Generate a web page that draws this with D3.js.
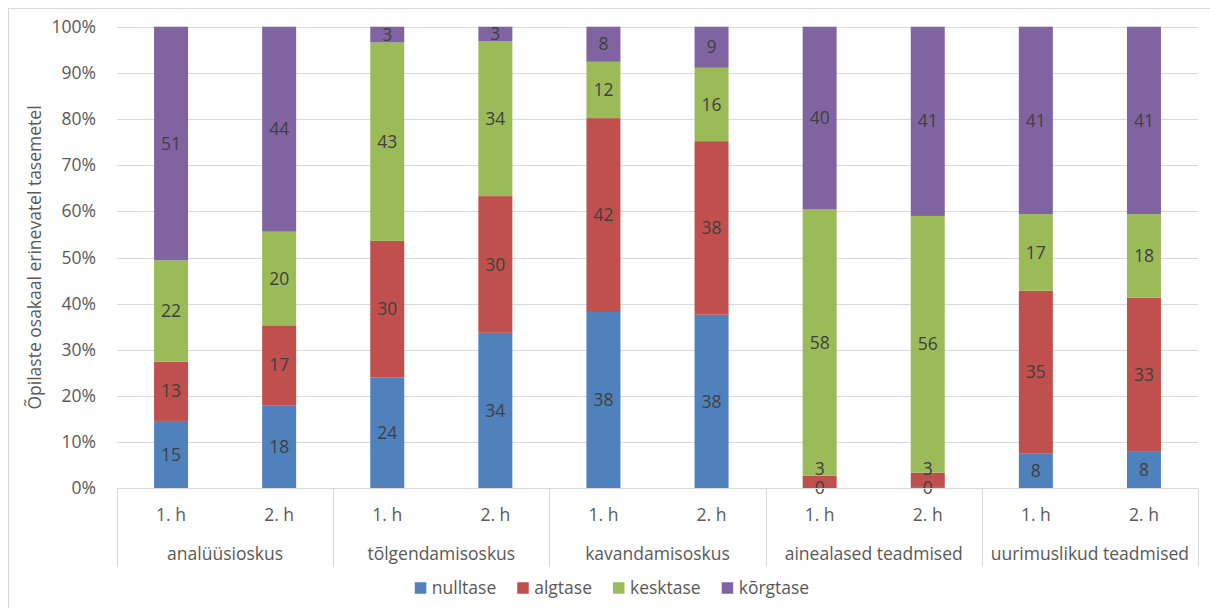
<!DOCTYPE html>
<html>
<head>
<meta charset="utf-8">
<script src="https://cdn.jsdelivr.net/npm/d3@7"></script>
<style>
  html, body { margin: 0; padding: 0; background: #fff; }
  svg { display: block; font-family: "Open Sans", "Noto Sans", sans-serif; }
</style>
</head>
<body>
<svg id="chart" width="1210" height="608"></svg>
<script>
// Skill groups and the two half-years measured in each
const groups = ["analüüsioskus", "tõlgendamisoskus", "kavandamisoskus", "ainealased teadmised", "uurimuslikud teadmised"];
const halves = ["1. h", "2. h"];
const levels = ["nulltase", "algtase", "kesktase", "kõrgtase"];

// Share of pupils (%) per level, one value per bar (group × half-year)
const nulltase = [14.6, 18.0, 24.0, 33.7, 38.2, 37.6, 0.0, 0.3, 7.6, 7.9];
const algtase  = [12.8, 17.3, 29.6, 29.6, 42.0, 37.6, 2.7, 3.1, 35.2, 33.4];
const kesktase = [22.0, 20.3, 43.0, 33.6, 12.2, 15.9, 57.7, 55.6, 16.6, 18.1];
const korgtase = [50.6, 44.4, 3.4, 3.1, 7.6, 8.9, 39.6, 41.0, 40.6, 40.6];

const yTicks = [0, 0.1, 0.2, 0.3, 0.4, 0.5, 0.6, 0.7, 0.8, 0.9, 1.0];
const colors = ["#4F81BD", "#C0504D", "#9BBB59", "#8064A2"];
const yTitle = "Õpilaste osakaal erinevatel tasemetel";

// Build one row per bar
const rows = [];
groups.forEach((g, gi) => halves.forEach((h, hi) => {
  const i = gi * 2 + hi;
  rows.push({
    key: g + "|" + h, group: g, half: h,
    "nulltase": nulltase[i], "algtase": algtase[i], "kesktase": kesktase[i], "kõrgtase": korgtase[i]
  });
}));

const svg = d3.select("#chart");
const plot = { left: 117, right: 1198, top: 26.7, bottom: 488.3 };
const textColor = "#595959";
const gridColor = "#d9d9d9";
const fontSize = 17.5;

// Outer chart frame
svg.append("rect")
  .attr("x", 8.5).attr("y", 8.5)
  .attr("width", 1230).attr("height", 640)
  .attr("fill", "none").attr("stroke", gridColor).attr("stroke-width", 1);

const x = d3.scaleBand()
  .domain(rows.map(d => d.key))
  .range([plot.left, plot.right])
  .paddingInner(0.6855)
  .paddingOuter(0.6855 / 2);

const y = d3.scaleLinear().domain([0, 1]).range([plot.bottom, plot.top]);

// Horizontal gridlines
svg.append("g").selectAll("line")
  .data(yTicks.filter(t => t > 0))
  .join("line")
  .attr("x1", plot.left).attr("x2", plot.right)
  .attr("y1", d => Math.round(y(d)) + 0.5).attr("y2", d => Math.round(y(d)) + 0.5)
  .attr("stroke", gridColor).attr("stroke-width", 1);

// Y axis tick labels
const yAxis = svg.append("g")
  .attr("transform", `translate(${plot.left},0)`)
  .call(d3.axisLeft(y).tickValues(yTicks).tickFormat(d3.format(".0%")).tickSize(0).tickPadding(21));
yAxis.select(".domain").remove();
yAxis.selectAll("text")
  .attr("fill", textColor)
  .style("font-size", fontSize + "px")
  .style("font-family", "'Open Sans', sans-serif");

// Y axis title
svg.append("text")
  .attr("transform", `translate(35,${(plot.top + plot.bottom) / 2}) rotate(-90)`)
  .attr("text-anchor", "middle")
  .attr("dy", "0.35em")
  .attr("fill", textColor)
  .style("font-size", fontSize + "px")
  .text(yTitle);

// Stacked, normalised to 100%
const stack = d3.stack().keys(levels).offset(d3.stackOffsetExpand);
const series = stack(rows);

svg.append("g").selectAll("g")
  .data(series)
  .join("g")
  .attr("fill", (d, i) => colors[i])
  .selectAll("rect")
  .data(d => d)
  .join("rect")
  .attr("x", d => x(d.data.key))
  .attr("width", x.bandwidth())
  .attr("y", d => y(d[1]))
  .attr("height", d => y(d[0]) - y(d[1]));

// Value labels, centred in each segment; pushed upward when they would collide
const labelData = [];
rows.forEach((r, ri) => {
  let prevY = Infinity;
  series.forEach((s, si) => {
    const seg = s[ri];
    const center = (y(seg[0]) + y(seg[1])) / 2;
    const ly = Math.min(center, prevY - 19);
    prevY = ly;
    labelData.push({ x: x(r.key) + x.bandwidth() / 2, y: ly, text: Math.round(r[levels[si]]) });
  });
});
svg.append("g").selectAll("text")
  .data(labelData)
  .join("text")
  .attr("x", d => d.x).attr("y", d => d.y)
  .attr("dy", "0.35em")
  .attr("text-anchor", "middle")
  .attr("fill", "#404040")
  .style("font-size", fontSize + "px")
  .text(d => d.text);

// Category axis: baseline, group separators, half-year and group labels
svg.append("line")
  .attr("x1", plot.left).attr("x2", plot.right)
  .attr("y1", Math.round(plot.bottom) + 0.5).attr("y2", Math.round(plot.bottom) + 0.5)
  .attr("stroke", gridColor);

const step = x.step();
const sepX = d3.range(groups.length + 1).map(i => plot.left + i * 2 * step);
svg.append("g").selectAll("line")
  .data(sepX)
  .join("line")
  .attr("x1", d => Math.round(d) + 0.5).attr("x2", d => Math.round(d) + 0.5)
  .attr("y1", plot.bottom).attr("y2", 567)
  .attr("stroke", gridColor);

svg.append("g").selectAll("text")
  .data(rows)
  .join("text")
  .attr("x", d => x(d.key) + x.bandwidth() / 2)
  .attr("y", 515)
  .attr("dy", "0.35em")
  .attr("text-anchor", "middle")
  .attr("fill", textColor)
  .style("font-size", fontSize + "px")
  .text(d => d.half);

svg.append("g").selectAll("text")
  .data(groups)
  .join("text")
  .attr("x", (d, i) => plot.left + (i * 2 + 1) * step)
  .attr("y", 554)
  .attr("dy", "0.35em")
  .attr("text-anchor", "middle")
  .attr("fill", textColor)
  .style("font-size", fontSize + "px")
  .text(d => d);

// Legend, centred under the chart
const legend = svg.append("g");
const items = legend.selectAll("g").data(levels).join("g");
items.append("rect")
  .attr("width", 11.5).attr("height", 11.5)
  .attr("y", -5.75)
  .attr("fill", (d, i) => colors[i]);
items.append("text")
  .attr("x", 17)
  .attr("dy", "0.35em")
  .attr("fill", textColor)
  .style("font-size", fontSize + "px")
  .text(d => d);
let cursor = 0;
items.each(function () {
  const g = d3.select(this);
  g.attr("transform", `translate(${cursor},0)`);
  const w = g.select("text").node().getComputedTextLength();
  cursor += 17 + w + 21;
});
const legendWidth = cursor - 21;
legend.attr("transform", `translate(${612 - legendWidth / 2},588)`);
</script>
</body>
</html>
